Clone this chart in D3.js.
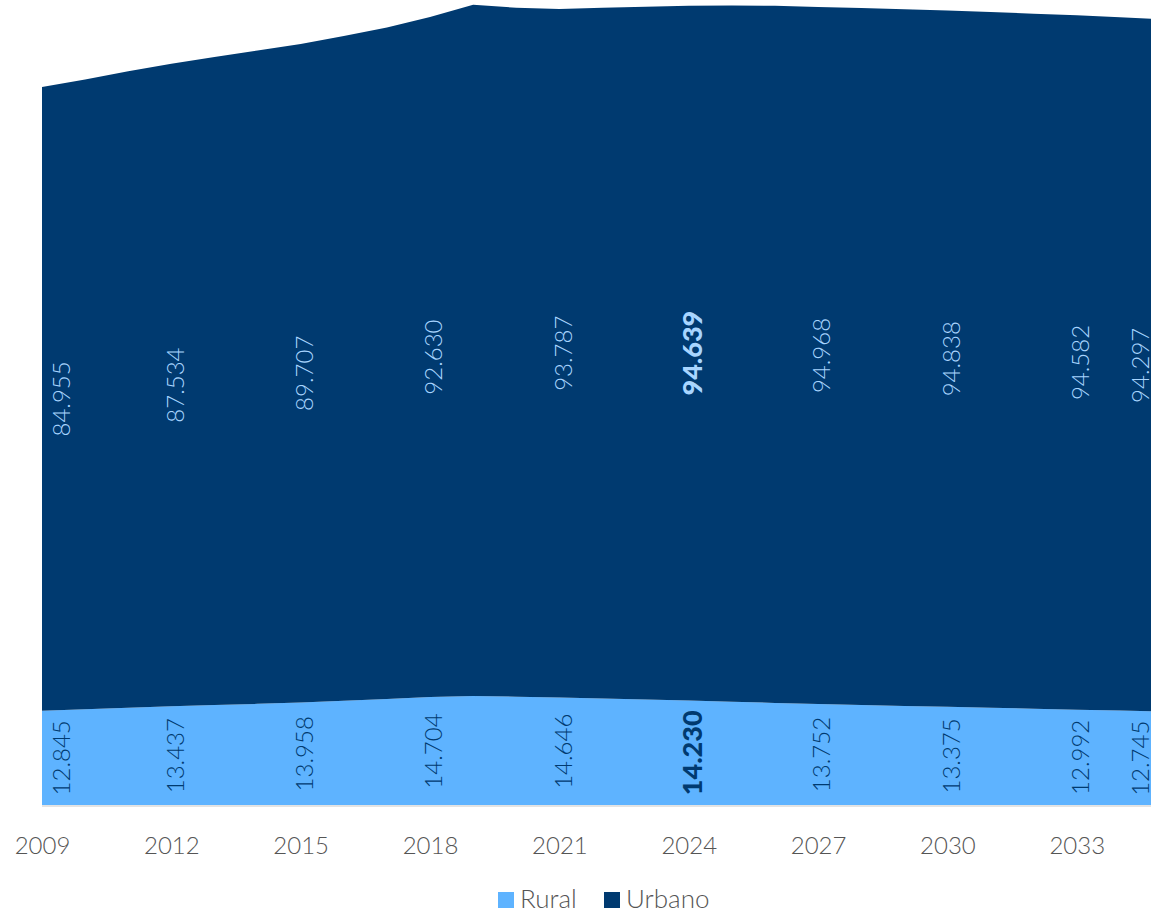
<!DOCTYPE html>
<html>
<head>
<meta charset="utf-8">
<script src="https://cdn.jsdelivr.net/npm/d3@7"></script>
<style>
  body { margin: 0; background: #fff; }
  svg { display: block; font-family: Lato, "Open Sans", sans-serif; }
</style>
</head>
<body>
<div id="chart"></div>
<script>
// yearly series, thousands of people
var years = [2009, 2010, 2011, 2012, 2013, 2014, 2015, 2016, 2017, 2018, 2019, 2020, 2021, 2022,
             2023, 2024, 2025, 2026, 2027, 2028, 2029, 2030, 2031, 2032, 2033, 2034, 2035];
var rural = [12.845, 13.04, 13.24, 13.437, 13.61, 13.78, 13.958, 14.2, 14.45, 14.704, 14.85, 14.75, 14.646, 14.51,
             14.37, 14.230, 14.07, 13.91, 13.752, 13.63, 13.5, 13.375, 13.25, 13.12, 12.992, 12.87, 12.745];
var urbano = [84.955, 85.8, 86.7, 87.534, 88.27, 89.0, 89.707, 90.55, 91.45, 92.630, 94.15, 93.85, 93.787, 94.08,
              94.37, 94.639, 94.85, 94.95, 94.968, 94.93, 94.89, 94.838, 94.76, 94.68, 94.582, 94.45, 94.297];
var labelYears = [2009, 2012, 2015, 2018, 2021, 2024, 2027, 2030, 2033, 2035];
var highlightYear = 2024;
var tickYears = [2009, 2012, 2015, 2018, 2021, 2024, 2027, 2030, 2033];
var seriesNames = ["Rural", "Urbano"];
var colors = ["#5eb3ff", "#003a70"];
var textColors = ["#003a70", "#a8d5ff"];

var w = 1151, h = 912;
var base = 805;

var table = years.map(function(y, i) {
  return { year: y, Rural: rural[i], Urbano: urbano[i] };
});

var x = d3.scaleLinear().domain([2009, 2035]).range([42, 1163]);
var y = d3.scaleLinear().domain([0, 110]).range([base, -2.5]);

var svg = d3.select("#chart").append("svg")
  .attr("width", w)
  .attr("height", h);

var stack = d3.stack().keys(seriesNames);
var layers = stack(table);

var area = d3.area()
  .x(function(d) { return x(d.data.year); })
  .y0(function(d) { return y(d[0]); })
  .y1(function(d) { return y(d[1]); });

svg.selectAll("path.layer")
  .data(layers)
  .enter()
  .append("path")
  .attr("class", "layer")
  .attr("d", area)
  .attr("fill", function(d, i) { return colors[i]; });

// faint baseline
svg.append("line")
  .attr("x1", x(2009)).attr("x2", w)
  .attr("y1", base + 1).attr("y2", base + 1)
  .attr("stroke", "#e3e3e3")
  .attr("stroke-width", 2);

// value labels, rotated, centred in each band
layers.forEach(function(layer, li) {
  var pts = layer.filter(function(d) { return labelYears.indexOf(d.data.year) >= 0; });
  svg.selectAll("text.lab" + li)
    .data(pts)
    .enter()
    .append("text")
    .attr("class", "lab" + li)
    .attr("transform", function(d) {
      var lx = Math.max(62, Math.min(1141, x(d.data.year) + 4));
      var ly = (y(d[0]) + y(d[1])) / 2;
      return "translate(" + lx + "," + ly + ") rotate(-90)";
    })
    .attr("text-anchor", "middle")
    .attr("dy", "0.35em")
    .attr("font-size", function(d) { return d.data.year == highlightYear ? 27 : 24; })
    .attr("font-weight", function(d) { return d.data.year == highlightYear ? 900 : 300; })
    .attr("fill", textColors[li])
    .text(function(d) { return d3.format(".3f")(d.data[seriesNames[li]]); });
});

// x axis
var xaxis = svg.append("g")
  .attr("transform", "translate(0," + (base + 29) + ")")
  .call(d3.axisBottom(x).tickValues(tickYears).tickFormat(d3.format("d")).tickSize(0));
xaxis.select(".domain").remove();
xaxis.selectAll("text")
  .attr("font-family", "Lato, sans-serif")
  .attr("font-size", 24)
  .attr("font-weight", 300)
  .attr("fill", "#555");

// legend
var legend = svg.append("g").attr("transform", "translate(498,892)");
var lx = [0, 106];
seriesNames.forEach(function(name, i) {
  var g = legend.append("g").attr("transform", "translate(" + lx[i] + ",0)");
  g.append("rect").attr("width", 16).attr("height", 16).attr("fill", colors[i]);
  g.append("text")
    .attr("x", 22).attr("y", 16)
    .attr("font-size", 26)
    .attr("font-weight", 300)
    .attr("fill", "#555")
    .text(name);
});
</script>
</body>
</html>
